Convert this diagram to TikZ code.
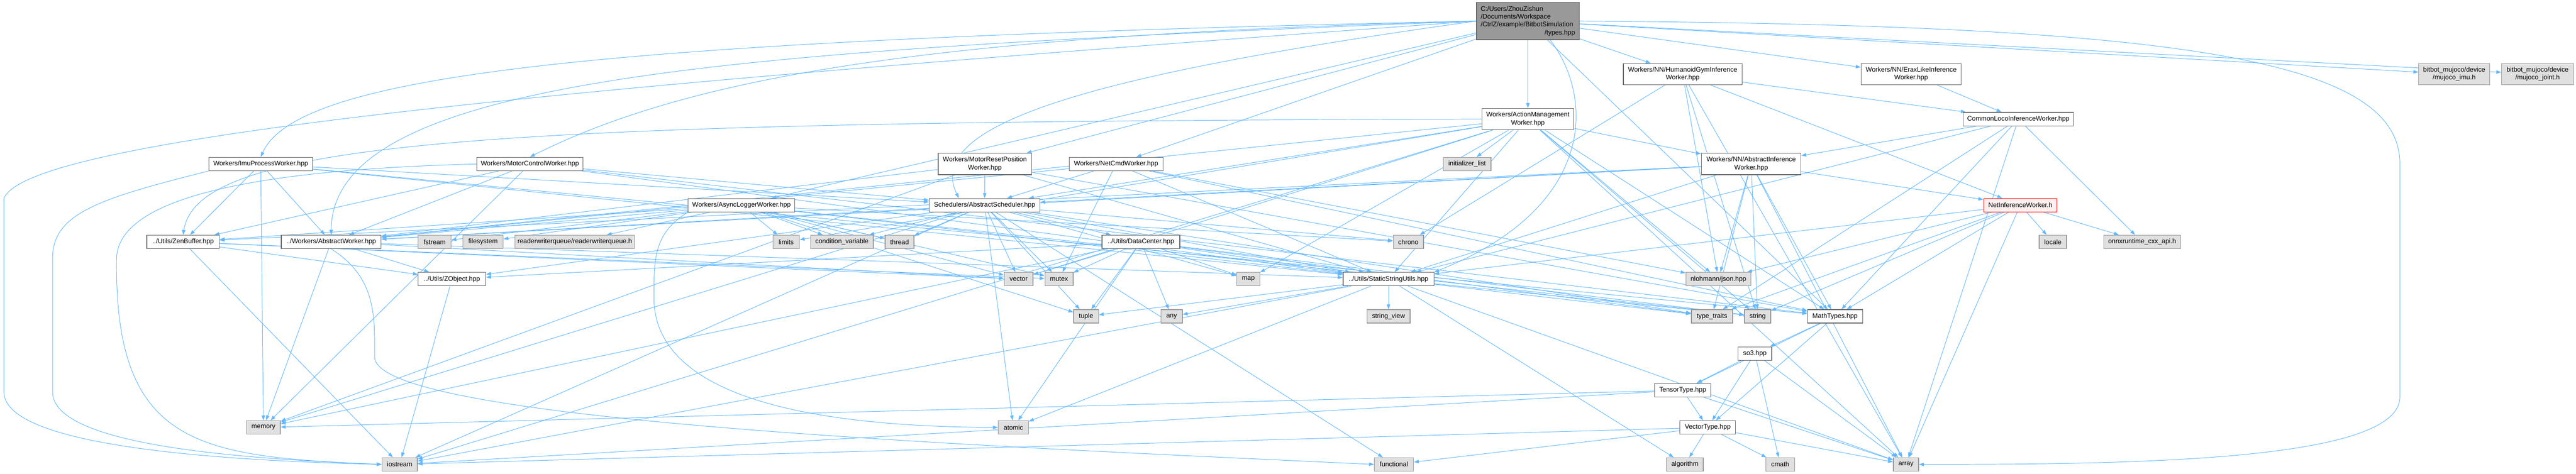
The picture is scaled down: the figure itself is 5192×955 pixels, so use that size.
\documentclass[tikz,border=0pt]{standalone}
\usepackage{fontspec}
\setmainfont{Liberation Sans}
\usetikzlibrary{arrows.meta}
\definecolor{edgeblue}{HTML}{63B8FF}
\definecolor{sysgray}{HTML}{E0E0E0}
\definecolor{rootgray}{HTML}{999999}
\definecolor{redfill}{HTML}{FFF0F0}
\pgfdeclarelayer{background}
\pgfsetlayers{background,main}

\begin{document}
\begin{tikzpicture}[x=1pt, y=-1pt,
	srcnode/.style={draw=black!60, fill=white, line width=1.3pt, minimum height=27pt,
		inner xsep=4pt, inner ysep=3pt, align=center, font=\fontsize{13.3}{16}\selectfont},
	sysnode/.style={srcnode, draw=black!40, fill=sysgray},
	dep/.style={draw=edgeblue, line width=1pt, -{Triangle[length=10pt,width=7pt]}}]
	\useasboundingbox (0,0) rectangle (5192,955);

	%nodes
	\node[srcnode, fill=rootgray, minimum width=207pt, minimum height=75pt, text width=190pt, align=left] (root) at (3079.5,42.5)
		{C:/Users/ZhouZishun\\/Documents/Workspace\\/CtrlZ/example/BitbotSimulation\\\hspace*{\fill}/types.hpp\hspace*{\fill}};
	\node[srcnode, minimum width=239pt, minimum height=43pt] (humanoid) at (3391.5,149.5) {Workers/NN/HumanoidGymInference\\Worker.hpp};
	\node[srcnode, minimum width=202pt, minimum height=43pt] (erax) at (3852,149.5) {Workers/NN/EraxLikeInference\\Worker.hpp};
	\node[sysnode, minimum width=143pt, minimum height=43pt] (bbimu) at (4946.5,149.5) {bitbot\_mujoco/device\\/mujoco\_imu.h};
	\node[sysnode, minimum width=145pt, minimum height=43pt] (bbjoint) at (5114.5,149.5) {bitbot\_mujoco/device\\/mujoco\_joint.h};
	\node[srcnode, minimum width=185pt, minimum height=43pt] (action) at (3079.5,240) {Workers/ActionManagement\\Worker.hpp};
	\node[srcnode, minimum width=222pt] (commonloco) at (4068,240) {CommonLocoInferenceWorker.hpp};
	\node[srcnode, minimum width=209pt] (imu) at (525.5,330.5) {Workers/ImuProcessWorker.hpp};
	\node[srcnode, minimum width=214pt] (motorctl) at (1068,330.5) {Workers/MotorControlWorker.hpp};
	\node[srcnode, minimum width=188pt, minimum height=43pt] (motorreset) at (1985,330.5) {Workers/MotorResetPosition\\Worker.hpp};
	\node[srcnode, minimum width=189pt] (netcmd) at (2249.5,330.5) {Workers/NetCmdWorker.hpp};
	\node[sysnode, minimum width=96pt] (initlist) at (2957,330.5) {initializer\_list};
	\node[srcnode, minimum width=201pt, minimum height=43pt] (absinf) at (3529.5,330.5) {Workers/NN/AbstractInference\\Worker.hpp};
	\node[srcnode, minimum width=215pt] (async) at (1494.5,413.5) {Workers/AsyncLoggerWorker.hpp};
	\node[srcnode, minimum width=223pt] (sched) at (1984.5,413.5) {Schedulers/AbstractScheduler.hpp};
	\node[srcnode, draw=red, fill=redfill, minimum width=148pt] (netinf) at (4072,413.5) {NetInferenceWorker.h};
	\node[srcnode, minimum width=146pt] (zenbuf) at (369,487.5) {../Utils/ZenBuffer.hpp};
	\node[srcnode, minimum width=201pt] (absworker) at (667.5,487.5) {../Workers/AbstractWorker.hpp};
	\node[sysnode, minimum width=66pt] (fstream) at (876,487.5) {fstream};
	\node[sysnode, minimum width=81pt] (filesystem) at (973.5,487.5) {filesystem};
	\node[sysnode, minimum width=241pt] (rwqueue) at (1158.5,487.5) {readerwriterqueue/readerwriterqueue.h};
	\node[sysnode, minimum width=53pt] (limits) at (1584.5,487.5) {limits};
	\node[sysnode, minimum width=126pt] (condvar) at (1697,487.5) {condition\_variable};
	\node[sysnode, minimum width=58pt] (thread) at (1813,487.5) {thread};
	\node[srcnode, minimum width=157pt] (datacenter) at (2299.5,487.5) {../Utils/DataCenter.hpp};
	\node[sysnode, minimum width=61pt] (chrono) at (2838.5,487.5) {chrono};
	\node[sysnode, minimum width=55pt] (locale) at (4137.5,487.5) {locale};
	\node[sysnode, minimum width=155pt] (onnx) at (4317.5,487.5) {onnxruntime\_cxx\_api.h};
	\node[srcnode, minimum width=136pt] (zobject) at (911,562.5) {../Utils/ZObject.hpp};
	\node[sysnode, minimum width=58pt] (vector) at (2053,562.5) {vector};
	\node[sysnode, minimum width=57pt] (mutex) at (2134.5,562.5) {mutex};
	\node[sysnode, minimum width=46pt] (map) at (2516,562.5) {map};
	\node[srcnode, minimum width=183pt] (static) at (2798.5,562.5) {../Utils/StaticStringUtils.hpp};
	\node[sysnode, minimum width=131pt] (json) at (3463.5,562.5) {nlohmann/json.hpp};
	\node[sysnode, minimum width=50pt] (tuple) at (2189,637.5) {tuple};
	\node[sysnode, minimum width=43pt] (any) at (2361.5,637.5) {any};
	\node[sysnode, minimum width=87pt] (stringview) at (2798.5,637.5) {string\_view};
	\node[sysnode, minimum width=83pt] (typetraits) at (3450.5,637.5) {type\_traits};
	\node[sysnode, minimum width=53pt] (string) at (3542.5,637.5) {string};
	\node[srcnode, minimum width=111pt] (math) at (3698.5,637.5) {MathTypes.hpp};
	\node[srcnode, minimum width=68pt] (so3) at (3537,712.5) {so3.hpp};
	\node[srcnode, minimum width=113pt] (tensor) at (3391.5,786.5) {TensorType.hpp};
	\node[srcnode, minimum width=112pt] (vectype) at (3442,861.5) {VectorType.hpp};
	\node[sysnode, minimum width=68pt] (memory) at (531,861.5) {memory};
	\node[sysnode, minimum width=61pt] (atomic) at (2042.5,861.5) {atomic};
	\node[sysnode, minimum width=71pt] (iostream) at (805.5,936) {iostream};
	\node[sysnode, minimum width=79pt] (functional) at (2809.5,936) {functional};
	\node[sysnode, minimum width=74pt] (algorithm) at (3396,936) {algorithm};
	\node[sysnode, minimum width=58pt] (cmath) at (3588,936) {cmath};
	\node[sysnode, minimum width=51pt] (array) at (3841.5,936) {array};

	%edges
	\begin{pgfonlayer}{background}
	\fill[white] (0,0) rectangle (5192,955);
	\foreach \t in {motorreset,netcmd,async,action,humanoid,erax,math,bbimu,bbjoint}
		\draw[dep] (root) -- (\t);
	\draw[dep] (root.west) .. controls (1200,80) and (600,150) .. (imu.north);
	\draw[dep] (root.west) .. controls (1900,70) and (1400,150) .. (motorctl.north);
	\draw[dep] (root.west) .. controls (1500,100) and (669,150) .. (absworker.north);
	\draw[dep] (root.west) .. controls (2200,150) and (1860,250) .. ([xshift=-52pt]sched.north);
	\draw[dep] ([xshift=45pt]root.south) .. controls (3215,200) and (3215,420) .. (static.north east);
	\draw[dep] (root.west) .. controls (1500,150) and (60,260) .. (8,400) -- (8,790) .. controls (8,880) and (300,925) .. (iostream.west);
	\draw[dep] (root.east) .. controls (4400,50) and (4837,120) .. (4837,330) -- (4837,800) .. controls (4837,930) and (4300,936) .. (array.east);

	\foreach \t in {zenbuf,absworker,sched,memory,math,static}
		\draw[dep] (imu) -- (\t);
	\draw[dep] (imu.south west) .. controls (200,400) and (106,430) .. (106,520) -- (106,790) .. controls (106,900) and (500,925) .. (iostream.west);
	\foreach \t in {zenbuf,absworker,sched,memory,math,static}
		\draw[dep] (motorctl) -- (\t);
	\draw[dep] (motorctl.west) .. controls (600,340) and (240,380) .. (235,520) .. controls (230,900) and (400,920) .. (iostream.west);
	\foreach \t in {sched,absworker,memory,math,static}
		\draw[dep] (motorreset) -- (\t);
	\foreach \t in {sched,mutex,absworker,static,math,json}
		\draw[dep] (netcmd) -- (\t);
	\foreach \t in {fstream,filesystem,rwqueue,limits,condvar,thread,zenbuf,absworker,tuple,vector,mutex,static,chrono,string}
		\draw[dep] (async) -- (\t);
	\draw[dep] (async.south west) .. controls (1318,470) and (1318,520) .. (1318,600) .. controls (1318,820) and (1700,860) .. (atomic.west);
	\foreach \t in {initlist,absinf,absworker,sched,static,math,json,vector,string,array,limits,iostream,map}
		\draw[dep] (action) -- (\t);
	\draw[dep] (action.west) .. controls (1000,245) and (400,280) .. (zenbuf.north);
	\foreach \t in {commonloco,netinf,chrono,string,json,array}
		\draw[dep] (humanoid) -- (\t);
	\draw[dep] (erax) -- (commonloco);
	\foreach \t in {absinf,static,math,array,typetraits,onnx}
		\draw[dep] (commonloco) -- (\t);
	\foreach \t in {netinf,sched,absworker,zenbuf,static,json,typetraits,string,math,array}
		\draw[dep] (absinf) -- (\t);
	\foreach \t in {locale,onnx,math,string,typetraits,json,static,array}
		\draw[dep] (netinf) -- (\t);
	\foreach \t in {absworker,datacenter,condvar,thread,vector,mutex,atomic,memory,iostream,functional,chrono,static,typetraits,map,tuple,zobject}
		\draw[dep] (sched) -- (\t);
	\foreach \t in {vector,mutex,atomic,any,map,tuple,static,string,typetraits,memory,zobject}
		\draw[dep] (datacenter) -- (\t);
	\foreach \t in {zobject,iostream,vector,mutex}
		\draw[dep] (zenbuf) -- (\t);
	\foreach \t in {zobject,memory,static,vector}
		\draw[dep] (absworker) -- (\t);
	\draw[dep] (absworker.south) .. controls (760,560) and (755,640) .. (755,720) .. controls (760,850) and (2000,900) .. (functional.west);
	\draw[dep] (zobject) -- (iostream);
	\foreach \t in {stringview,algorithm,typetraits,string,array,tuple,any,atomic,iostream}
		\draw[dep] (static) -- (\t);
	\foreach \t in {so3,tensor,vectype}
		\draw[dep] (math) -- (\t);
	\foreach \t in {tensor,vectype,cmath,array}
		\draw[dep] (so3) -- (\t);
	\foreach \t in {vectype,array,memory,iostream}
		\draw[dep] (tensor) -- (\t);
	\foreach \t in {algorithm,cmath,array,functional,iostream}
		\draw[dep] (vectype) -- (\t);
	\end{pgfonlayer}

\end{tikzpicture}
\end{document}
